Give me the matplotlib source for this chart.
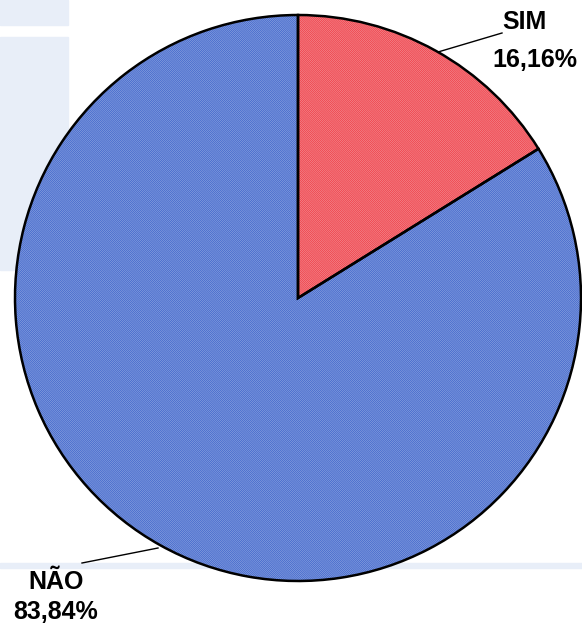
import matplotlib
matplotlib.use("Agg")
import matplotlib.pyplot as plt
import matplotlib.patches as patches

labels = ['SIM', 'NÃO']
values = [16.16, 83.84]
value_texts = ['16,16%', '83,84%']
colors = ['#EE3F48', '#4066CB']

plt.rcParams['font.family'] = ['Liberation Sans', 'DejaVu Sans']
plt.rcParams['hatch.linewidth'] = 0.5

W, H = 582, 626
fig = plt.figure(figsize=(W / 100, H / 100), dpi=100)
ax = fig.add_axes([0, 0, 1, 1])

# faint slide watermark in the background
bg = '#E8EEF8'
ax.add_patch(patches.Rectangle((0, H - 270), 68, 233, color=bg, zorder=0))
ax.add_patch(patches.Rectangle((0, H - 25), 68, 25, color=bg, zorder=0))
ax.add_patch(patches.Rectangle((0, H - 568), W, 5, color=bg, zorder=0))

cx, cy, r = 298, H - 298, 283

# base fill
ax.pie(values, colors=colors, startangle=90, counterclock=False,
       center=(cx, cy), radius=r, frame=True,
       wedgeprops=dict(linewidth=0))
# fine diagonal texture
ax.pie(values, colors=['none', 'none'], startangle=90, counterclock=False,
       center=(cx, cy), radius=r, frame=True,
       wedgeprops=dict(linewidth=0, edgecolor=(1, 1, 1, 0.4), hatch='\\' * 16))
# black outlines
ax.pie(values, colors=['none', 'none'], startangle=90, counterclock=False,
       center=(cx, cy), radius=r, frame=True,
       wedgeprops=dict(linewidth=1.8, edgecolor='black'))

ax.set_xlim(0, W)
ax.set_ylim(0, H)
ax.set_aspect('equal')
ax.axis('off')

# labels with leader lines
ax.plot([438, 502], [H - 52, H - 33], color='black', lw=1)
ax.text(524, H - 22, labels[0], ha='center', va='center', fontsize=18, fontweight='bold')
ax.text(535, H - 60, value_texts[0], ha='center', va='center', fontsize=18, fontweight='bold')

ax.plot([158, 82], [H - 548, H - 563], color='black', lw=1)
ax.text(56, H - 582, labels[1], ha='center', va='center', fontsize=18, fontweight='bold')
ax.text(56, H - 612, value_texts[1], ha='center', va='center', fontsize=18, fontweight='bold')

fig.savefig('out.png', dpi=100)
